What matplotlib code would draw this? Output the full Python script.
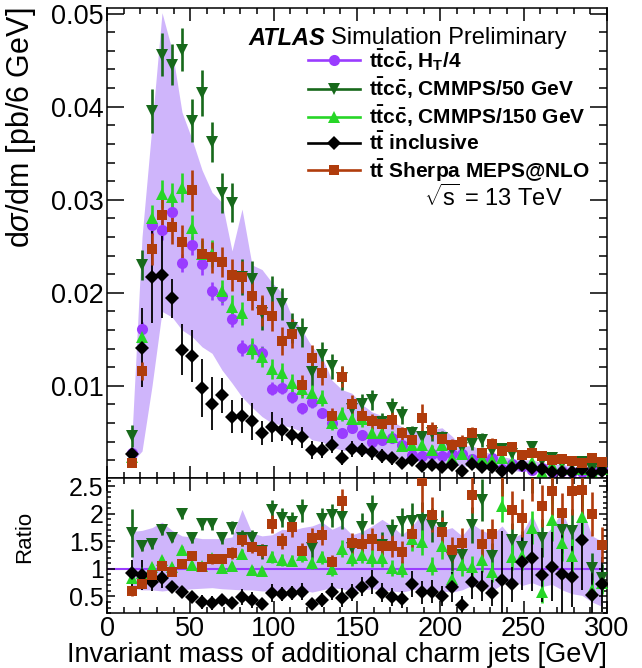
import numpy as np
import matplotlib.pyplot as plt
from matplotlib.lines import Line2D
from matplotlib.ticker import MultipleLocator, FuncFormatter

plt.rcParams['font.family'] = ['Liberation Sans', 'DejaVu Sans']
plt.rcParams['mathtext.fontset'] = 'custom'
plt.rcParams['mathtext.rm'] = 'Liberation Sans'
plt.rcParams['mathtext.it'] = 'Liberation Sans:italic'
plt.rcParams['mathtext.bf'] = 'Liberation Sans:bold'

# bin centres, 6 GeV bins
mass = np.arange(15, 298, 6)

# ---- main panel: dsigma/dm [pb/6 GeV] ----
ttcc_ht4 = [0.0028, 0.0161, 0.0273, 0.0268, 0.0287, 0.0232, 0.0251, 0.0231, 0.0202, 0.0197,
            0.0172, 0.0141, 0.0140, 0.0135, 0.0097, 0.0098, 0.0088, 0.0076, 0.0083, 0.0071,
            0.0060, 0.0049, 0.0055, 0.0047, 0.0040, 0.0042, 0.0044, 0.0037, 0.0026, 0.0025,
            0.0027, 0.0025, 0.0027, 0.0027, 0.0021, 0.0019, 0.0023, 0.0011, 0.0016, 0.0014,
            0.0010, 0.0012, 0.0008, 0.0009, 0.0008, 0.0007, 0.0011, 0.0012]
ttcc_c50 = [0.0046, 0.0230, 0.0395, 0.0456, 0.0445, 0.0461, 0.0385, 0.0415, 0.0362, 0.0307,
            0.0297, 0.0217, 0.0215, 0.0178, 0.0200, 0.0188, 0.0162, 0.0157, 0.0115, 0.0133,
            0.0121, 0.0108, 0.0075, 0.0080, 0.0085, 0.0061, 0.0076, 0.0069, 0.0049, 0.0045,
            0.0049, 0.0044, 0.0031, 0.0033, 0.0038, 0.0042, 0.0030, 0.0032, 0.0027, 0.0024,
            0.0034, 0.0019, 0.0022, 0.0016, 0.0015, 0.0018, 0.0011, 0.0008]
ttcc_c150 = [0.0024, 0.0153, 0.0280, 0.0306, 0.0303, 0.0313, 0.0270, 0.0242, 0.0242, 0.0202,
             0.0185, 0.0178, 0.0140, 0.0131, 0.0118, 0.0114, 0.0103, 0.0097, 0.0092, 0.0087,
             0.0060, 0.0070, 0.0064, 0.0064, 0.0049, 0.0049, 0.0045, 0.0035, 0.0036, 0.0037,
             0.0031, 0.0036, 0.0023, 0.0027, 0.0020, 0.0022, 0.0020, 0.0022, 0.0017, 0.0017,
             0.0018, 0.0007, 0.0015, 0.0012, 0.0011, 0.0011, 0.0008, 0.0011]
tt_incl = [0.0027, 0.0141, 0.0217, 0.0219, 0.0194, 0.0139, 0.0132, 0.0098, 0.0081, 0.0090,
           0.0067, 0.0068, 0.0062, 0.0049, 0.0056, 0.0053, 0.0047, 0.0045, 0.0031, 0.0031,
           0.0037, 0.0023, 0.0032, 0.0031, 0.0029, 0.0025, 0.0022, 0.0017, 0.0020, 0.0014,
           0.0015, 0.0013, 0.0015, 0.0009, 0.0016, 0.0013, 0.0013, 0.0009, 0.0012, 0.0015,
           0.0012, 0.0011, 0.0008, 0.0008, 0.0007, 0.0011, 0.0006, 0.0009]
tt_sherpa = [0.0017, 0.0116, 0.0247, 0.0284, 0.0271, 0.0255, 0.0310, 0.0242, 0.0238, 0.0233,
             0.0219, 0.0217, 0.0197, 0.0181, 0.0175, 0.0148, 0.0156, 0.0101, 0.0130, 0.0114,
             0.0068, 0.0110, 0.0081, 0.0068, 0.0062, 0.0059, 0.0063, 0.0049, 0.0042, 0.0066,
             0.0053, 0.0043, 0.0037, 0.0040, 0.0049, 0.0028, 0.0038, 0.0030, 0.0034, 0.0026,
             0.0028, 0.0025, 0.0020, 0.0021, 0.0019, 0.0017, 0.0022, 0.0018]

# scale-variation envelope of the H_T/4 prediction
band_lo = [0.0018, 0.0030, 0.0100, 0.0180, 0.0174, 0.0160, 0.0153, 0.0142, 0.0135, 0.0117,
           0.0103, 0.0088, 0.0077, 0.0067, 0.0060, 0.0058, 0.0055, 0.0051, 0.0042, 0.0040,
           0.0034, 0.0031, 0.0030, 0.0028, 0.0026, 0.0025, 0.0024, 0.0022, 0.0020, 0.0018,
           0.0017, 0.0016, 0.0015, 0.0014, 0.0013, 0.0012, 0.0011, 0.0010, 0.0009, 0.0008,
           0.0008, 0.0007, 0.0006, 0.0006, 0.0005, 0.0005, 0.0004, 0.0003]
band_hi = [0.0047, 0.0260, 0.0380, 0.0501, 0.0461, 0.0394, 0.0365, 0.0332, 0.0308, 0.0297,
           0.0245, 0.0290, 0.0230, 0.0225, 0.0211, 0.0200, 0.0174, 0.0160, 0.0142, 0.0131,
           0.0106, 0.0096, 0.0092, 0.0080, 0.0072, 0.0068, 0.0062, 0.0056, 0.0052, 0.0050,
           0.0053, 0.0055, 0.0046, 0.0035, 0.0036, 0.0030, 0.0027, 0.0024, 0.0022, 0.0020,
           0.0021, 0.0017, 0.0016, 0.0016, 0.0013, 0.0014, 0.0011, 0.0010]

rel_ht4 = [0.10, 0.05, 0.04, 0.04, 0.04, 0.04, 0.04, 0.05, 0.05, 0.05, 0.05, 0.06, 0.06, 0.06,
           0.07, 0.07, 0.07, 0.08, 0.08, 0.08, 0.09, 0.09, 0.09, 0.10, 0.10, 0.10, 0.11, 0.11,
           0.12, 0.12, 0.12, 0.13, 0.13, 0.13, 0.14, 0.14, 0.14, 0.15, 0.15, 0.15, 0.16, 0.16,
           0.17, 0.17, 0.17, 0.18, 0.18, 0.18]
rel_c50 = [0.26, 0.07, 0.06, 0.05, 0.05, 0.05, 0.06, 0.06, 0.06, 0.07, 0.07, 0.09, 0.09, 0.10,
           0.09, 0.09, 0.10, 0.10, 0.13, 0.11, 0.11, 0.12, 0.14, 0.14, 0.13, 0.16, 0.14, 0.14,
           0.17, 0.18, 0.17, 0.18, 0.20, 0.20, 0.18, 0.17, 0.20, 0.18, 0.20, 0.21, 0.18, 0.22,
           0.22, 0.24, 0.24, 0.22, 0.26, 0.30]
rel_c150 = [0.12, 0.06, 0.05, 0.05, 0.05, 0.05, 0.05, 0.06, 0.06, 0.06, 0.07, 0.07, 0.08, 0.08,
            0.09, 0.09, 0.09, 0.10, 0.10, 0.10, 0.12, 0.11, 0.12, 0.12, 0.13, 0.13, 0.14, 0.15,
            0.15, 0.15, 0.16, 0.16, 0.18, 0.18, 0.18, 0.18, 0.19, 0.14, 0.20, 0.20, 0.17, 0.35,
            0.20, 0.22, 0.24, 0.18, 0.30, 0.28]
rel_incl = [0.25, 0.30, 0.23, 0.21, 0.11, 0.20, 0.21, 0.32, 0.35, 0.21, 0.26, 0.28, 0.32, 0.26,
            0.29, 0.23, 0.22, 0.25, 0.30, 0.28, 0.25, 0.35, 0.27, 0.25, 0.28, 0.30, 0.32, 0.35,
            0.33, 0.36, 0.35, 0.36, 0.40, 0.45, 0.40, 0.40, 0.42, 1.10, 0.45, 0.45, 0.50, 0.55,
            0.60, 0.95, 0.65, 0.60, 1.10, 0.70]
rel_sherpa = [0.15, 0.08, 0.07, 0.07, 0.07, 0.07, 0.07, 0.07, 0.07, 0.07, 0.08, 0.08, 0.08, 0.09,
              0.09, 0.10, 0.10, 0.11, 0.11, 0.11, 0.12, 0.10, 0.12, 0.13, 0.13, 0.14, 0.14, 0.15,
              0.15, 0.22, 0.16, 0.16, 0.17, 0.18, 0.14, 0.18, 0.17, 0.20, 0.17, 0.18, 0.20, 0.18,
              0.18, 0.18, 0.18, 0.18, 0.20, 0.22]

# ---- ratio panel (to ttcc H_T/4) ----
ratio_c50 = [1.65, 1.42, 1.45, 1.71, 1.56, 2.00, 1.56, 1.82, 1.82, 1.56, 1.75, 1.56, 1.56, 1.32,
             2.07, 1.93, 1.85, 2.06, 1.38, 1.90, 1.97, 1.95, 1.38, 1.77, 2.08, 1.44, 1.68, 1.85,
             1.87, 1.88, 1.80, 1.75, 1.20, 1.25, 1.80, 2.25, 1.23, 2.90, 1.53, 1.40, 2.90, 1.56,
             2.80, 1.70, 1.68, 2.75, 1.02, 0.84]
ratio_c150 = [0.84, 0.93, 1.04, 1.16, 1.04, 1.35, 1.07, 1.05, 1.20, 1.02, 1.05, 1.27, 0.98, 0.96,
              1.22, 1.16, 1.15, 1.25, 1.11, 1.21, 1.00, 1.37, 1.20, 1.25, 1.20, 1.20, 1.02, 1.00,
              1.55, 1.48, 1.05, 1.41, 0.82, 1.07, 1.04, 1.16, 0.95, 2.15, 1.22, 1.23, 1.75, 0.59,
              1.88, 1.47, 1.24, 1.95, 0.62, 0.75]
ratio_incl = [0.93, 0.89, 0.77, 0.83, 0.67, 0.58, 0.49, 0.40, 0.38, 0.44, 0.38, 0.49, 0.44, 0.36,
              0.57, 0.54, 0.56, 0.59, 0.36, 0.44, 0.59, 0.48, 0.57, 0.68, 0.76, 0.57, 0.49, 0.45,
              0.72, 0.58, 0.59, 0.51, 0.67, 0.35, 0.77, 0.69, 0.56, 0.80, 0.72, 1.12, 1.20, 0.89,
              1.04, 0.91, 0.86, 1.53, 0.53, 0.72]
ratio_sherpa = [0.60, 0.73, 0.89, 1.05, 0.95, 1.09, 1.24, 1.04, 1.18, 1.18, 1.29, 1.53, 1.40, 1.33,
                1.82, 1.51, 1.76, 1.33, 1.57, 1.61, 1.12, 2.23, 1.47, 1.45, 1.55, 1.42, 1.42, 1.31,
                1.64, 2.60, 1.98, 1.67, 1.35, 1.47, 2.34, 1.46, 1.63, 2.90, 2.07, 1.92, 2.80, 2.14,
                2.41, 2.02, 2.41, 2.44, 1.99, 1.44]
rband_lo = [0.65, 0.62, 0.62, 0.60, 0.62, 0.62, 0.64, 0.65, 0.66, 0.64, 0.63, 0.62, 0.62, 0.60,
            0.60, 0.62, 0.64, 0.62, 0.58, 0.62, 0.66, 0.64, 0.60, 0.62, 0.64, 0.62, 0.60, 0.58,
            0.62, 0.64, 0.62, 0.60, 0.58, 0.62, 0.70, 0.66, 0.60, 0.72, 0.82, 0.70, 0.75, 0.68,
            0.72, 0.62, 0.55, 0.52, 0.40, 0.32]
rband_hi = [1.68, 1.70, 1.75, 1.85, 1.70, 1.60, 1.58, 1.55, 1.55, 1.55, 1.58, 2.08, 1.65, 1.60,
            1.62, 1.72, 1.70, 1.75, 1.78, 1.85, 1.72, 1.80, 1.62, 1.68, 1.78, 1.90, 1.78, 1.62,
            1.78, 2.00, 1.85, 1.70, 1.75, 1.60, 1.82, 1.70, 1.62, 1.78, 1.55, 1.65, 1.98, 1.58,
            1.75, 2.05, 1.62, 2.10, 1.60, 1.50]

purple = '#9a3cff'
band_col = '#cfb5fb'
dgreen = '#17691b'
lgreen = '#27d627'
brown = '#b03c0c'

series = [
    # label, values, ratio, rel err, colour, marker, size
    (r'$\mathbf{t\bar{t}c\bar{c}}$, H$_\mathbf{T}$/4', ttcc_ht4, None, rel_ht4, purple, 'o', 8),
    (r'$\mathbf{t\bar{t}c\bar{c}}$, CMMPS/50 GeV', ttcc_c50, ratio_c50, rel_c50, dgreen, 'v', 8),
    (r'$\mathbf{t\bar{t}c\bar{c}}$, CMMPS/150 GeV', ttcc_c150, ratio_c150, rel_c150, lgreen, '^', 8),
    (r'$\mathbf{t\bar{t}}$ inclusive', tt_incl, ratio_incl, rel_incl, 'black', 'D', 7),
    (r'$\mathbf{t\bar{t}}$ Sherpa MEPS@NLO', tt_sherpa, ratio_sherpa, rel_sherpa, brown, 's', 7),
]

fig = plt.figure(figsize=(6.42, 6.68), dpi=100)
ax = fig.add_axes([0.1667, 0.2844, 0.7788, 0.7036])
rax = fig.add_axes([0.1667, 0.0823, 0.7788, 0.2021], sharex=ax)

ax.fill_between(mass, band_lo, band_hi, color=band_col, lw=0, zorder=0)
rax.fill_between(mass, rband_lo, rband_hi, color=band_col, lw=0, zorder=0)
rax.axhline(1.0, color=purple, lw=1.5, zorder=1)

handles = []
for label, vals, ratio, rel, col, mk, ms in series:
    vals = np.array(vals)
    rel = np.array(rel)
    black = col == 'black'
    kw = dict(fmt=mk, color=col, ms=ms, mew=0,
              elinewidth=1.3 if black else 1.9,
              capsize=4 if black else 0, capthick=1.3, zorder=3)
    ax.errorbar(mass, vals, yerr=vals * rel, **kw)
    if ratio is not None:
        ratio = np.array(ratio)
        rax.errorbar(mass, ratio, yerr=ratio * rel, **kw)
    handles.append(Line2D([], [], color=col, marker=mk, ms=ms, mew=0, lw=1.9, label=label))

# axes ranges and ticks
ax.set_xlim(0, 300)
ax.set_ylim(0.0001, 0.0506)
rax.set_ylim(0.2, 2.65)

ax.xaxis.set_major_locator(MultipleLocator(50))
ax.xaxis.set_minor_locator(MultipleLocator(10))
ax.yaxis.set_major_locator(MultipleLocator(0.01))
ax.yaxis.set_minor_locator(MultipleLocator(0.002))
rax.yaxis.set_major_locator(MultipleLocator(0.5))
rax.yaxis.set_minor_locator(MultipleLocator(0.1))
rax.yaxis.set_major_formatter(FuncFormatter(lambda v, p: '%g' % v))
rax.xaxis.set_major_formatter(FuncFormatter(lambda v, p: '%g' % v))

for a in (ax, rax):
    a.tick_params(which='both', direction='in', top=True, right=True, width=1.1)
    for s in a.spines.values():
        s.set_linewidth(1.1)
ax.tick_params(axis='x', which='major', length=9, labelbottom=False)
ax.tick_params(axis='x', which='minor', length=4.5)
ax.tick_params(axis='y', which='major', length=12, labelsize=19.5, pad=2.5)
ax.tick_params(axis='y', which='minor', length=6)
rax.tick_params(axis='x', which='major', length=9, labelsize=19.5, pad=2)
rax.tick_params(axis='x', which='minor', length=4.5)
rax.tick_params(axis='y', which='major', length=6, labelsize=18, pad=2.5)
rax.tick_params(axis='y', which='minor', length=3)

ax.set_ylabel(r'd$\sigma$/dm [pb/6 GeV]', fontsize=22, loc='top')
rax.set_ylabel('Ratio', fontsize=16)
rax.set_xlabel('Invariant mass of additional charm jets [GeV]', fontsize=19.5, loc='right', labelpad=0)
ax.yaxis.set_label_coords(-0.138, 1.0)
rax.yaxis.set_label_coords(-0.144, 0.56)

# labels
ax.text(0.282, 0.936, 'ATLAS', transform=ax.transAxes, fontsize=17,
        fontweight='bold', fontstyle='italic', va='center')
ax.text(0.447, 0.936, 'Simulation Preliminary', transform=ax.transAxes, fontsize=17, va='center')
ax.text(0.912, 0.596, r'$\sqrt{\mathrm{s}}$ = 13 TeV', transform=ax.transAxes, fontsize=17,
        ha='right', va='center')

ax.legend(handles=handles, loc='upper left', bbox_to_anchor=(0.385, 0.935), frameon=False,
          handlelength=2.5, handletextpad=0.45, labelspacing=0.13, borderaxespad=0,
          numpoints=1, prop={'size': 15, 'weight': 'bold'})

fig.savefig('out.png', dpi=100)
